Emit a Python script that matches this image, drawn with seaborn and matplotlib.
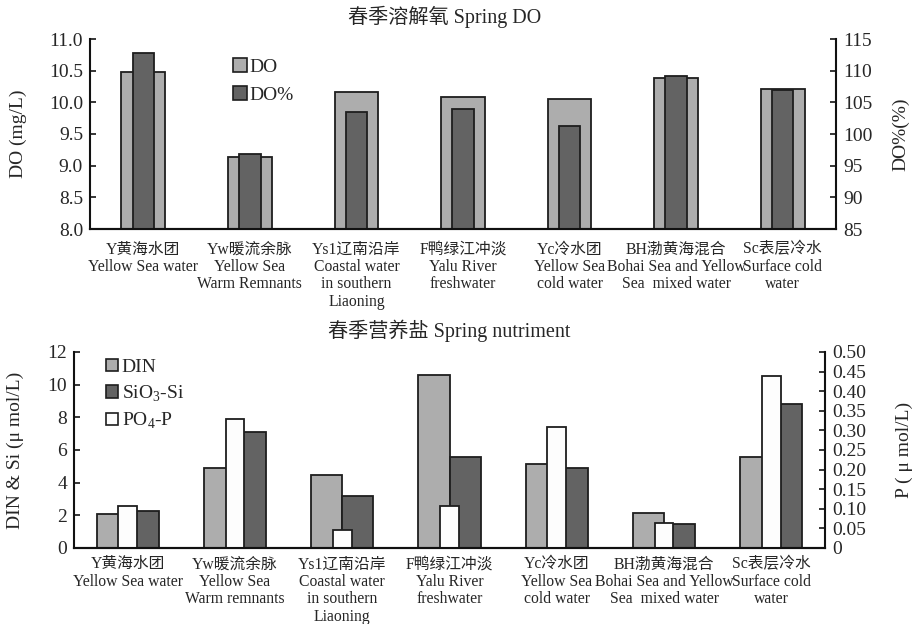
import matplotlib
matplotlib.use("Agg")
import matplotlib.pyplot as plt
from matplotlib.patches import Patch
import seaborn as sns
import pandas as pd

# Water masses (Chinese code + English description)
masses_do = [
    "Y黄海水团\nYellow Sea water",
    "Yw暖流余脉\nYellow Sea\nWarm Remnants",
    "Ys1辽南沿岸\nCoastal water\nin southern\nLiaoning",
    "F鸭绿江冲淡\nYalu River\nfreshwater",
    "Yc冷水团\nYellow Sea\ncold water",
    "BH渤黄海混合\nBohai Sea and Yellow\nSea  mixed water",
    "Sc表层冷水\nSurface cold\nwater",
]
masses_nut = [
    "Y黄海水团\nYellow Sea water",
    "Yw暖流余脉\nYellow Sea\nWarm remnants",
    "Ys1辽南沿岸\nCoastal water\nin southern\nLiaoning",
    "F鸭绿江冲淡\nYalu River\nfreshwater",
    "Yc冷水团\nYellow Sea\ncold water",
    "BH渤黄海混合\nBohai Sea and Yellow\nSea  mixed water",
    "Sc表层冷水\nSurface cold\nwater",
]
codes = ["Y", "Yw", "Ys1", "F", "Yc", "BH", "Sc"]

# Spring dissolved oxygen
do_mg = [10.48, 9.13, 10.17, 10.08, 10.06, 10.39, 10.21]     # mg/L
do_pct = [112.8, 96.9, 103.4, 103.9, 101.3, 109.2, 106.9]    # %

# Spring nutrients
din = [2.06, 4.87, 4.48, 10.62, 5.13, 2.16, 5.58]            # umol/L
sio3 = [2.26, 7.11, 3.18, 5.58, 4.89, 1.45, 8.80]            # umol/L
po4 = [0.107, 0.330, 0.046, 0.106, 0.309, 0.065, 0.438]      # umol/L

LIGHT = "#adadad"
DARK = "#636363"
WHITE = "#fdfdfd"
EDGE = "#1e1e1e"

sns.set_style("white")
plt.rcParams["font.family"] = ["Liberation Serif", "Noto Sans CJK SC"]
plt.rcParams["axes.linewidth"] = 1.5
plt.rcParams["axes.edgecolor"] = "#111111"

fig = plt.figure(figsize=(9.16, 6.24), dpi=100)

# ---------------- upper panel: DO ----------------
ax1 = fig.add_axes([90 / 916, 1 - 229 / 624, 746 / 916, 190 / 624])
sns.barplot(x=codes, y=do_mg, ax=ax1, color=LIGHT, width=0.41,
            edgecolor=EDGE, linewidth=1.3, saturation=1)
ax1b = ax1.twinx()
sns.barplot(x=codes, y=do_pct, ax=ax1b, color=DARK, width=0.2,
            edgecolor=EDGE, linewidth=1.3, saturation=1)
ax1.set_ylim(8.0, 11.0)
ax1.set_yticks([8.0, 8.5, 9.0, 9.5, 10.0, 10.5, 11.0])
ax1.set_yticklabels([f"{v:.1f}" for v in ax1.get_yticks()])
ax1b.set_ylim(85, 115)
ax1b.set_yticks(range(85, 116, 5))

# ---------------- lower panel: nutrients ----------------
ax2 = fig.add_axes([74 / 916, 1 - 548 / 624, 751 / 916, 196 / 624])
nut = pd.DataFrame({
    "mass": codes * 2,
    "value": din + sio3,
    "series": ["DIN"] * 7 + ["SiO3"] * 7,
})
sns.barplot(data=nut, x="mass", y="value", hue="series",
            hue_order=["DIN", "SiO3"], palette=[LIGHT, DARK],
            width=0.578, gap=0, edgecolor=EDGE, linewidth=1.3,
            saturation=1, legend=False, ax=ax2)
ax2b = ax2.twinx()
sns.barplot(x=codes, y=po4, ax=ax2b, color=WHITE, width=0.175,
            edgecolor=EDGE, linewidth=1.3, saturation=1)
ax2.set_ylim(0, 12)
ax2.set_yticks(range(0, 13, 2))
ax2b.set_ylim(0, 0.5)
pt = [0, 0.05, 0.10, 0.15, 0.20, 0.25, 0.30, 0.35, 0.40, 0.45, 0.50]
ax2b.set_yticks(pt)
ax2b.set_yticklabels(["0"] + [f"{v:.2f}" for v in pt[1:]])

# ---------------- shared styling ----------------
for ax, axb, labels, pad in ((ax1, ax1b, masses_do, 9), (ax2, ax2b, masses_nut, 6)):
    ax.set_xlim(-0.5, 6.5)
    ax.set_xticks(range(7))
    ax.set_xticklabels(labels, fontsize=11.3, linespacing=1.12)
    ax.set_xticks([i + 0.5 for i in range(6)], minor=True)
    ax.tick_params(axis="x", which="major", length=0, pad=pad)
    ax.tick_params(axis="x", which="minor", direction="in", length=5, width=1.3)
    ax.tick_params(axis="y", direction="in", length=4, width=1.3,
                   labelsize=14, pad=5, left=True)
    axb.tick_params(axis="y", direction="in", length=4, width=1.3,
                    labelsize=14, pad=5, right=True)
    for a in (ax, axb):
        a.set_xlabel("")
        a.set_ylabel("")
        a.spines["top"].set_visible(False)
        for s in a.spines.values():
            s.set_linewidth(1.5)
    ax.spines["right"].set_visible(False)
    axb.spines["left"].set_visible(False)

# titles and axis labels
fig.text(445 / 916, 1 - 17 / 624, "春季溶解氧 Spring DO", ha="center", va="center", fontsize=14.5)
fig.text(449 / 916, 1 - 331 / 624, "春季营养盐 Spring nutriment", ha="center", va="center", fontsize=14.5)
fig.text(18 / 916, 1 - 134 / 624, "DO (mg/L)", rotation=90, ha="center", va="center", fontsize=14)
fig.text(901 / 916, 1 - 134 / 624, "DO%(%)", rotation=90, ha="center", va="center", fontsize=14)
fig.text(15 / 916, 1 - 450 / 624, "DIN & Si (μ mol/L)", rotation=90, ha="center", va="center", fontsize=14)
fig.text(904 / 916, 1 - 450 / 624, "P ( μ mol/L)", rotation=90, ha="center", va="center", fontsize=14)

# legends
leg1 = ax1b.legend(
    handles=[Patch(facecolor=LIGHT, edgecolor=EDGE, linewidth=1.2),
             Patch(facecolor=DARK, edgecolor=EDGE, linewidth=1.2)],
    labels=["DO", "DO%"], loc="upper left",
    bbox_to_anchor=(233 / 916, 1 - 58 / 624), bbox_transform=fig.transFigure,
    frameon=False, fontsize=14, handlelength=0.7, handleheight=0.7,
    handletextpad=0.15, labelspacing=0.55, borderpad=0, borderaxespad=0)
leg2 = ax2b.legend(
    handles=[Patch(facecolor=LIGHT, edgecolor=EDGE, linewidth=1.2),
             Patch(facecolor=DARK, edgecolor=EDGE, linewidth=1.2),
             Patch(facecolor=WHITE, edgecolor=EDGE, linewidth=1.2)],
    labels=["DIN", "SiO$_\\mathregular{3}$-Si", "PO$_\\mathregular{4}$-P"],
    loc="upper left",
    bbox_to_anchor=(106 / 916, 1 - 359 / 624), bbox_transform=fig.transFigure,
    frameon=False, fontsize=14, handlelength=0.6, handleheight=0.6,
    handletextpad=0.2, labelspacing=0.38, borderpad=0, borderaxespad=0)

fig.savefig("out.png", dpi=100, facecolor="white")
